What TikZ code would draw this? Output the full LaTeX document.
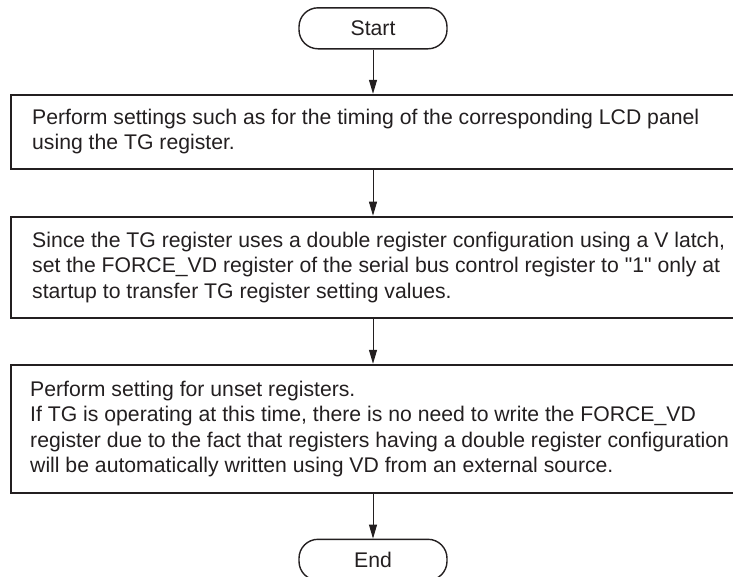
\documentclass[tikz,border=0pt]{standalone}
\usepackage{fontspec}
\setmainfont{Liberation Sans}[Ligatures=TeXOff]
\usetikzlibrary{arrows.meta,calc}
\definecolor{ink}{HTML}{231F20}
\begin{document}
\begin{tikzpicture}[x=1pt,y=-1pt,
  term/.style={draw=ink, line width=1.4pt, rounded corners=19pt, minimum width=148pt, minimum height=41pt, inner sep=0pt, font=\fontsize{21.2}{25.4}\selectfont, text=ink},
  stepbox/.style={draw=ink, line width=2pt, inner sep=0pt, minimum width=725pt},
  txt/.style={align=left, inner sep=0pt, anchor=west, font=\fontsize{21.2}{25.4}\selectfont, text=ink},
  flow/.style={draw=ink, line width=1pt, -{Triangle[length=14pt,width=8pt]}}
]
\useasboundingbox (0,0) rectangle (733,576);
\node[term] (start) at (373,28.3) {Start};
\node[stepbox, minimum height=73.8pt] (b1) at (373.5,131.7) {};
\node[stepbox, minimum height=101.4pt] (b2) at (373.5,267.4) {};
\node[stepbox, minimum height=128.6pt] (b3) at (373.5,429.1) {};
\node[term] (end) at (373,559.8) {End};
\node[txt] (t1) at ($(b1.west)+(22,0)$) {Perform settings such as for the timing of the corresponding LCD panel\\using the TG register.};
\node[txt] (t2) at ($(b2.west)+(22,0)$) {Since the TG register uses a double register configuration using a V latch,\\set the FORCE\_VD register of the serial bus control register to "1" only at\\startup to transfer TG register setting values.};
\node[txt] (t3) at ($(b3.west)+(20,0)$) {Perform setting for unset registers.\\If TG is operating at this time, there is no need to write the FORCE\_VD\\register due to the fact that registers having a double register configuration\\will be automatically written using VD from an external source.};
\draw[flow] (start.south) -- (start.south |- b1.north);
\draw[flow] (start.south |- b1.south) -- (start.south |- b2.north);
\draw[flow] (start.south |- b2.south) -- (start.south |- b3.north);
\draw[flow] (start.south |- b3.south) -- (end.north);
\end{tikzpicture}
\end{document}
